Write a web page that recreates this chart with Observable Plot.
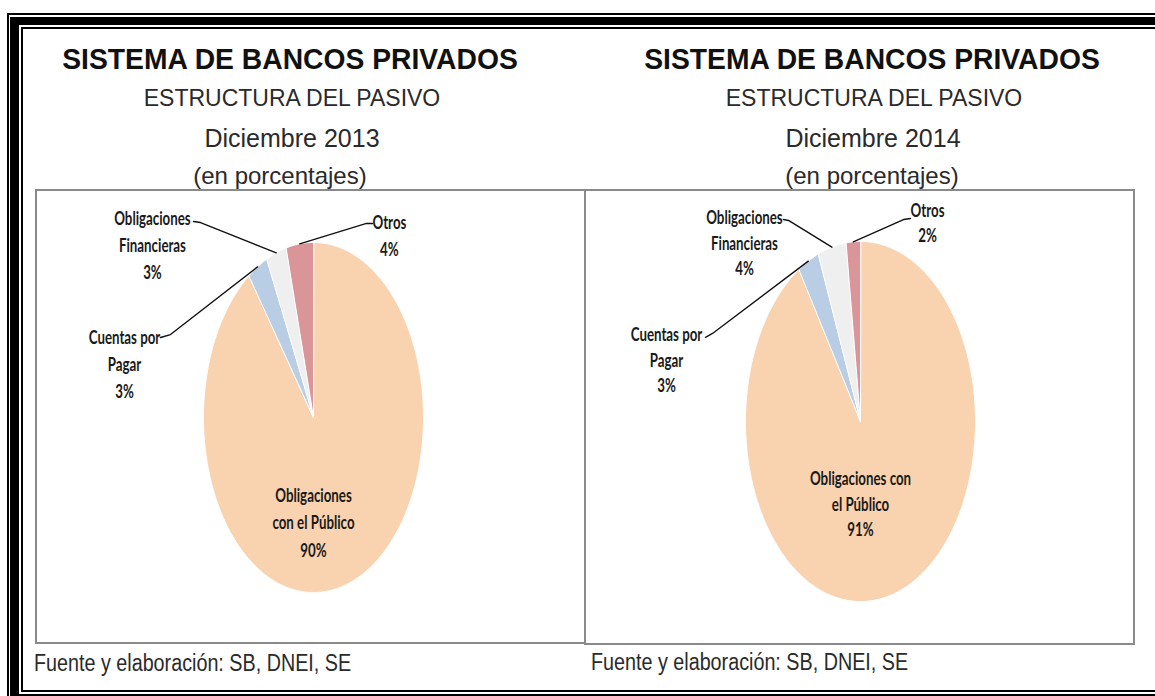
<!DOCTYPE html>
<html><head><meta charset="utf-8">
<script src="https://cdn.jsdelivr.net/npm/d3@7"></script>
<script src="https://cdn.jsdelivr.net/npm/@observablehq/plot@0.6"></script>
<style>
html,body{margin:0;padding:0;background:#fff;}
#page{position:relative;width:1155px;height:696px;overflow:hidden;background:#fff;font-family:"Liberation Sans",Arial,sans-serif;}
.abs{position:absolute;}
.frame1{left:7px;top:13px;width:3000px;height:3000px;border-left:2px solid #000;border-top:2px solid #000;}
.frame2{left:10px;top:17px;width:3000px;height:686px;box-sizing:border-box;border-left:9px solid #000;border-top:8px solid #000;border-bottom:9px solid #000;}
.frame3{left:21px;top:27px;width:3000px;height:665px;box-sizing:border-box;border:2px solid #000;}
.box{border:2px solid #8a8a8a;box-sizing:border-box;}
.t{white-space:nowrap;line-height:1;transform:translateX(-50%);color:#2a2a2a;}
.h1{font-size:28px;font-weight:bold;color:#111;transform:translateX(-50%) scale(1.01,1.06);transform-origin:50% 85%;}
.h2{font-size:23px;}
.h3{font-size:25px;}
.h4{font-size:24px;}
.foot{white-space:nowrap;line-height:1;font-size:23.5px;color:#2a2a2a;transform:scaleX(0.84);transform-origin:0 0;}
</style></head>
<body><div id="page">
<div class="abs frame1"></div>
<div class="abs frame2"></div>
<div class="abs frame3"></div>
<div class="abs box" style="left:35px;top:189px;width:551px;height:455px;"></div>
<div class="abs box" style="left:584px;top:189px;width:551px;height:456px;"></div>
<div id="titles"></div>
<div id="pie1" class="abs" style="left:36px;top:190px;"></div>
<div id="pie2" class="abs" style="left:585px;top:190px;"></div>
</div>
<script>
// ---- data ----
const categories = ["Obligaciones con el Público", "Cuentas por Pagar", "Obligaciones Financieras", "Otros"];
const colors = ["#F9D2AF", "#B9CDE5", "#EFEFEF", "#D99598"];
const values2013 = [90, 3, 3, 4];
const values2014 = [91, 3, 4, 2];
const labels2013 = ["Obligaciones\ncon el Público\n90%", "Cuentas por\nPagar\n3%", "Obligaciones\nFinancieras\n3%", "Otros\n4%"];
const labels2014 = ["Obligaciones con\nel Público\n91%", "Cuentas por\nPagar\n3%", "Obligaciones\nFinancieras\n4%", "Otros\n2%"];
const titleLines = ["SISTEMA DE BANCOS PRIVADOS", "ESTRUCTURA DEL PASIVO", "(en porcentajes)"];
const periods = ["Diciembre 2013", "Diciembre 2014"];
const source = "Fuente y elaboración: SB, DNEI, SE";

// ---- layout (in pie-radius units) ----
const layout2013 = {
  width: 549, height: 453, marginLeft: 167, marginRight: 162, marginTop: 52, marginBottom: 51,
  lineHeight: 1.5,
  label: [[0, -0.59], [-1.718, 0.317], [-1.464, 0.994], [0.69, 1.049]],
  leader: [null, [[-1.391, 0.457], [-1.30, 0.474]], [[-1.091, 1.12], [-1.027, 1.114]], [[0.536, 1.109], [0.482, 1.109]]]
};
const layout2014 = {
  width: 549, height: 453, marginLeft: 160, marginRight: 159, marginTop: 51, marginBottom: 42,
  lineHeight: 1.4,
  label: [[0, -0.45], [-1.687, 0.35], [-1.009, 1.0], [0.583, 1.111]],
  leader: [null, [[-1.348, 0.468], [-1.287, 0.489]], [[-0.67, 1.122], [-0.626, 1.117]], [[0.435, 1.128], [0.374, 1.122]]]
};

// ---- titles ----
const titles = document.getElementById("titles");
function addText(cls, txt, left, top) {
  const d = document.createElement("div");
  d.className = "abs " + cls;
  d.style.left = left + "px"; d.style.top = top + "px";
  d.textContent = txt;
  titles.appendChild(d);
}
[[290, 292, 280], [872, 873, 872]].forEach((c, i) => {
  addText("t h1", titleLines[0], c[0], 46);
  addText("t h2", titleLines[1], c[0] + 2, 86.5);
  addText("t h3", periods[i], c[1], 126);
  addText("t h4", titleLines[2], c[2], 164);
});
addText("foot", source, 34, 652);
addText("foot", source, 591, 651);

// ---- pies ----
function pie(values, labels, L) {
  const total = d3.sum(values);
  let acc = 0;
  const slices = [], mids = [];
  values.forEach((v, i) => {
    const a0 = acc / total * 2 * Math.PI, a1 = (acc + v) / total * 2 * Math.PI;
    acc += v;
    const pts = [{x: 0, y: 0}];
    const n = Math.max(2, Math.ceil((a1 - a0) / (Math.PI / 360)));
    for (let k = 0; k <= n; k++) {
      const a = a0 + (a1 - a0) * k / n;
      pts.push({x: Math.sin(a), y: Math.cos(a)});
    }
    slices.push(pts);
    mids.push((a0 + a1) / 2);
  });
  const leaders = [];
  L.leader.forEach((p, i) => {
    if (!p) return;
    leaders.push({cat: categories[i], x: p[0][0], y: p[0][1]});
    leaders.push({cat: categories[i], x: p[1][0], y: p[1][1]});
    leaders.push({cat: categories[i], x: Math.sin(mids[i]), y: Math.cos(mids[i])});
  });
  const lab = labels.map((t, i) => ({text: t, x: L.label[i][0], y: L.label[i][1]}));
  const svg = Plot.plot({
    width: L.width, height: L.height,
    marginLeft: L.marginLeft, marginRight: L.marginRight, marginTop: L.marginTop, marginBottom: L.marginBottom,
    x: {domain: [-1, 1], axis: null},
    y: {domain: [-1, 1], axis: null},
    style: {background: "transparent", overflow: "visible"},
    marks: [
      ...slices.map((pts, i) => Plot.line(pts, {x: "x", y: "y", fill: colors[i], stroke: "#ffffff", strokeWidth: 1, curve: "linear-closed"})),
      Plot.line(leaders, {x: "x", y: "y", z: "cat", stroke: "#111", strokeWidth: 1.4}),
      Plot.text(lab, {x: "x", y: "y", text: "text", fontSize: 13.3, fontWeight: "bold", fontFamily: "Lato, 'Open Sans', sans-serif", fill: "#1a1a1a", lineHeight: L.lineHeight})
    ]
  });
  svg.querySelectorAll('g[aria-label="text"] text').forEach(t => {
    let tr = t.getAttribute("transform");
    if (!tr) {
      const x = t.getAttribute("x") || 0, y = t.getAttribute("y") || 0;
      t.removeAttribute("x"); t.removeAttribute("y");
      tr = `translate(${x},${y})`;
    }
    t.setAttribute("transform", tr + " scale(1,1.36)");
  });
  return svg;
}
document.getElementById("pie1").appendChild(pie(values2013, labels2013, layout2013));
document.getElementById("pie2").appendChild(pie(values2014, labels2014, layout2014));
</script>
</body></html>
